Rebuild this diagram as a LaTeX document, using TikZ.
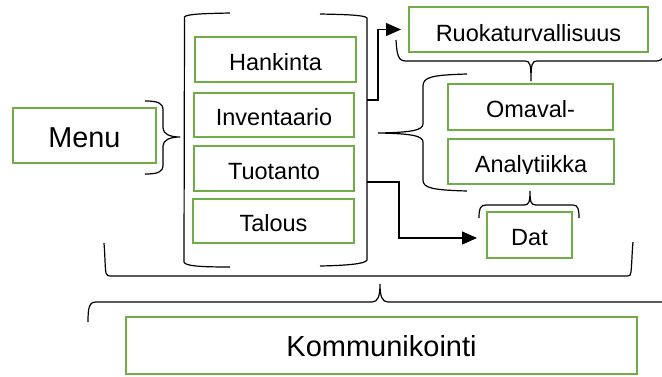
\documentclass[tikz,border=0pt]{standalone}
\usepackage{fontspec}
\setmainfont{Liberation Sans}
\usetikzlibrary{arrows.meta}
\definecolor{boxgreen}{RGB}{112,173,71}
\begin{document}
\begin{tikzpicture}[x=1pt,y=-1pt,
  gbox/.style={draw=boxgreen, line width=2.5pt, inner sep=0pt, outer sep=0pt,
    font=\fontsize{23.5}{28}\selectfont, text height=21pt, text depth=0pt},
  bigbox/.style={gbox, font=\fontsize{28.8}{34}\selectfont, text height=24pt},
  brk/.style={draw=black, line width=1.2pt},
  conn/.style={draw=black, line width=1.2pt, -{Triangle[length=15pt,width=13pt]}}]
\useasboundingbox (0,0) rectangle (662,376);
\clip (0,0) rectangle (662,376);

% boxes
\node[bigbox, minimum width=143pt, minimum height=55pt] (menu) at (84.5,135.5) {Menu};
\node[gbox, minimum width=161pt, minimum height=45pt] (hank) at (275.5,59.5) {Hankinta};
\node[gbox, minimum width=160pt, minimum height=44pt] (inv) at (274,115) {Inventaario};
\node[gbox, minimum width=160pt, minimum height=45pt] (tuot) at (274,168.5) {Tuotanto};
\node[gbox, minimum width=161pt, minimum height=44pt] (tal) at (273.5,221) {Talous};
\node[gbox, text height=23pt, minimum width=239pt, minimum height=45pt] (ruoka) at (528.5,29.5) {Ruokaturvallisuus};
\node[gbox, minimum width=165pt, minimum height=46pt] (omaval) at (530.5,107) {Omaval-};
\node[gbox, minimum width=166pt, minimum height=45pt] (analyt) at (531,161.5) {};
\begin{scope}
  \clip (448,139) rectangle (614,173.5);
  \node[gbox, draw=none, text height=22.5pt] (analytlbl) at (analyt.center) {Analytiikka};
\end{scope}
\node[gbox, minimum width=85pt, minimum height=46pt] (dat) at (529.5,235) {Dat};
\node[bigbox, font=\fontsize{29}{34}\selectfont, text height=22.8pt, minimum width=511pt, minimum height=57pt] (komm) at (381.5,345.5) {Kommunikointi};

% square brackets around the four process boxes
\draw[brk] (230,13) .. controls (205,13.5) and (186,14) .. (184.5,17) -- (184,262)
  .. controls (185,266) and (200,267) .. (230,267);
\draw[brk] (320,14) .. controls (345,14.5) and (365,15) .. (367,18) -- (367,260)
  .. controls (366,264) and (345,265.5) .. (320,266);

% wide bracket under everything
\draw[brk] (104,243) .. controls (105,255) and (105,268) .. (106,273)
  .. controls (106.5,275.5) and (108,276) .. (112,276) -- (626,276)
  .. controls (630,276) and (631,275) .. (631,272)
  .. controls (632,262) and (632,252) .. (633,242);

% brace above Kommunikointi
\draw[brk] (88,322) .. controls (88,308) and (89,302) .. (96,302) -- (372,302)
  .. controls (378,302) and (380,296) .. (380,284)
  .. controls (380,296) and (382,302) .. (388,302) -- (664,302)
  .. controls (671,302) and (672,308) .. (672,322);

% brace right of Menu
\draw[brk] (145,101) .. controls (158,101) and (163,103) .. (163,110) -- (163,128)
  .. controls (163,134) and (170,137) .. (180,137)
  .. controls (170,137) and (163,140) .. (163,146) -- (163,165)
  .. controls (163,172) and (158,174) .. (145,174);

% brace under Ruokaturvallisuus
\draw[brk] (396,40) .. controls (397,55) and (398,61) .. (406,61) -- (525,61)
  .. controls (530,61) and (531,64) .. (531,81)
  .. controls (531,64) and (532,61) .. (537,61) -- (656,61)
  .. controls (664,61) and (665,55) .. (666,40);

% brace left of Omaval- / Analytiikka
\draw[brk] (467,74) .. controls (432,75) and (423,77) .. (423,86) -- (423,124)
  .. controls (423,130) and (412,132.5) .. (378,133)
  .. controls (412,133.5) and (423,136) .. (423,142) -- (423,180)
  .. controls (423,188) and (432,190) .. (467,191);

% brace above Dat
\draw[brk] (479,218) .. controls (479,209) and (480,205) .. (486,205) -- (524,205)
  .. controls (529,205) and (530,202) .. (530,191)
  .. controls (530,202) and (531,205) .. (536,205) -- (573,205)
  .. controls (578,205) and (579,209) .. (579,218);

% connectors
\coordinate (c1) at (367,100);
\coordinate (c2) at (367,182);
\coordinate (a2) at (477,238);
\draw[conn] (c1) -- ++(11,0) |- ([xshift=-8pt]ruoka.west);
\draw[conn] (c2) -- ++(32,0) |- (a2);
\end{tikzpicture}
\end{document}
